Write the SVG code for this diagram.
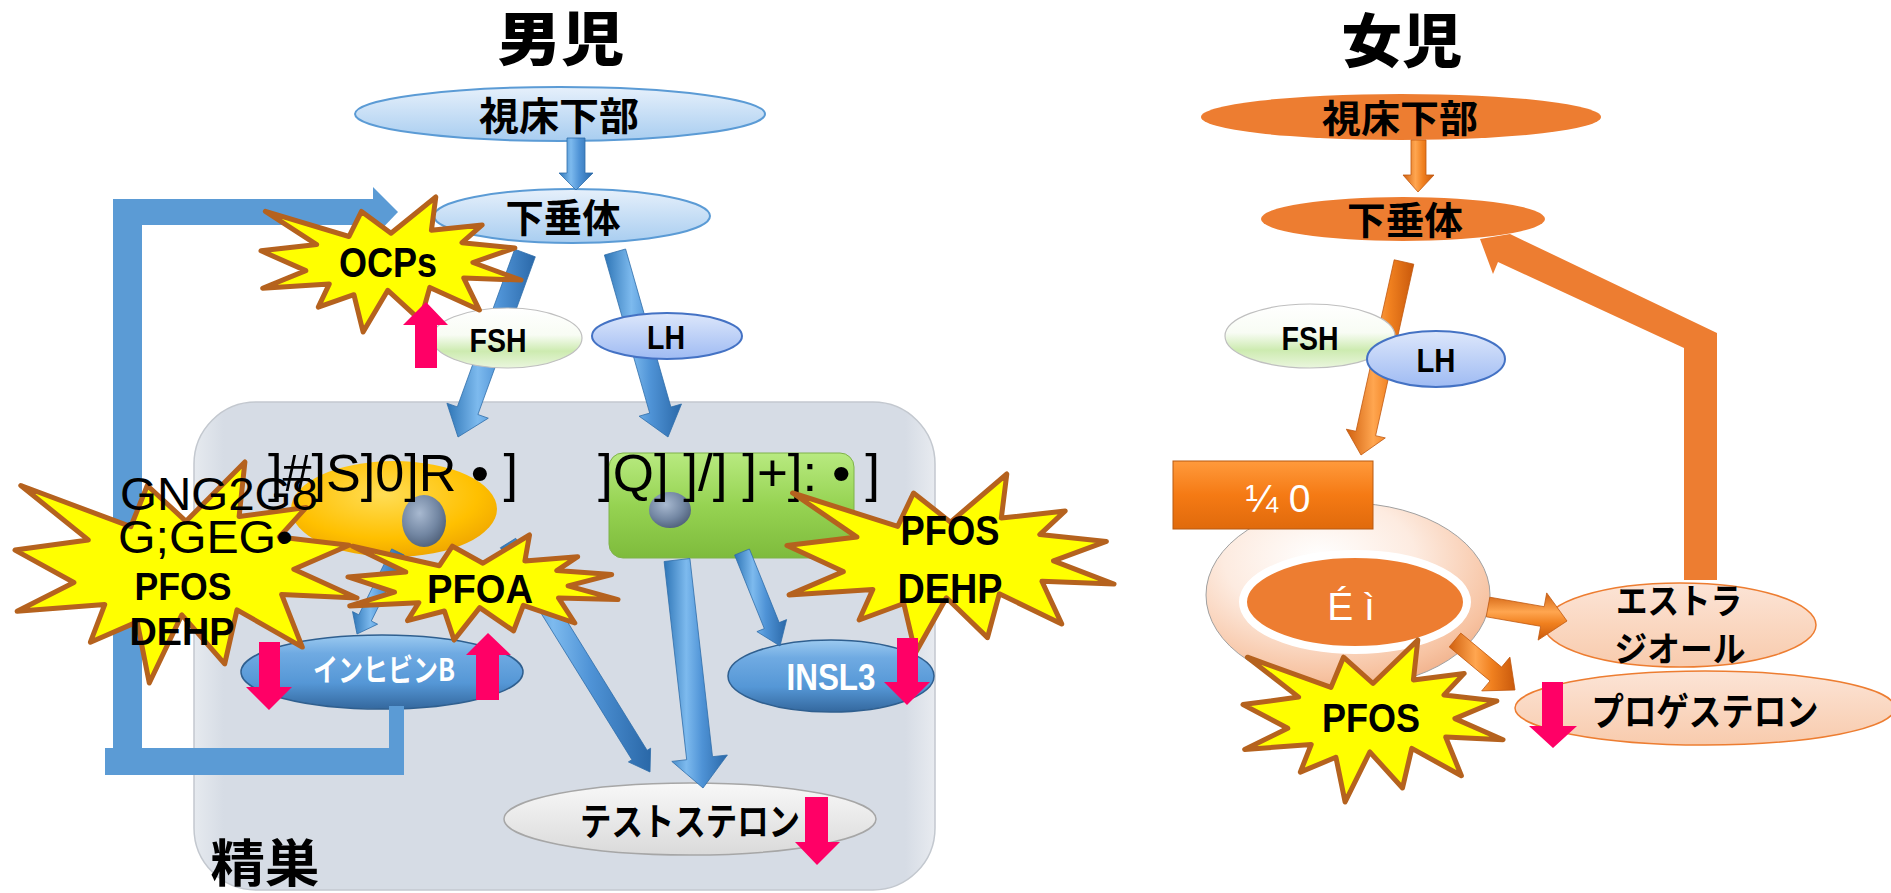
<svg xmlns="http://www.w3.org/2000/svg" width="1891" height="893" viewBox="0 0 1891 893">
<defs>
<style>
.jp{font-family:"Noto Sans CJK JP","Noto Sans CJK SC",sans-serif;font-weight:700;fill:#000}
.ttl{font-weight:900}
.lb{font-family:"Liberation Sans",Arial,sans-serif;font-weight:700;fill:#000}
.lr{font-family:"Liberation Sans",Arial,sans-serif;font-weight:400;fill:#000}
.wt{fill:#FFFFFF}
.burst{fill:#FFFF00;stroke:#B5621E;stroke-width:5;stroke-linejoin:round}
.pink{fill:#FF0066}
.fbm{fill:#5B9BD5}
.fbf{fill:#ED7D31}
.ba{fill:url(#gBA);stroke:#2F6DAA;stroke-width:0.8}
.oa{fill:url(#gOA);stroke:#C0580F;stroke-width:0.8}
.oav{fill:url(#gOAv);stroke:#C0580F;stroke-width:0.8}
.hypoM{fill:url(#gHypoM);stroke:#5B9BD5;stroke-width:2}
.hypoF{fill:#ED7D31}
.fsh{fill:url(#gFSH);stroke:#BFBFBF;stroke-width:1.2}
.lh{fill:url(#gLH);stroke:#4472C4;stroke-width:2}
.bnode{fill:url(#gBN);stroke:#2F5F8F;stroke-width:1.5}
.peach{fill:url(#gPeach);stroke:#ED7D31;stroke-width:1.5}
</style>
<linearGradient id="gHypoM" x1="0" y1="0" x2="0" y2="1"><stop offset="0" stop-color="#E6F0FB"/><stop offset="1" stop-color="#A8CDF0"/></linearGradient>
<linearGradient id="gFSH" x1="0" y1="0" x2="0" y2="1"><stop offset="0" stop-color="#FFFFFF"/><stop offset="0.45" stop-color="#F8FCF4"/><stop offset="0.72" stop-color="#CDEBB0"/><stop offset="1" stop-color="#EAF6DE"/></linearGradient>
<linearGradient id="gLH" x1="0" y1="0" x2="0" y2="1"><stop offset="0" stop-color="#DDE7FB"/><stop offset="1" stop-color="#9FBBF3"/></linearGradient>
<linearGradient id="gBN" x1="0" y1="0" x2="0" y2="1"><stop offset="0" stop-color="#9CCAF0"/><stop offset="0.25" stop-color="#6FAAE2"/><stop offset="0.65" stop-color="#5597D6"/><stop offset="1" stop-color="#34689E"/></linearGradient>
<linearGradient id="gTesto" x1="0" y1="0" x2="0" y2="1"><stop offset="0" stop-color="#F8F8F8"/><stop offset="1" stop-color="#DADADA"/></linearGradient>
<radialGradient id="gSertoli" cx="0.45" cy="0.35" r="0.65"><stop offset="0" stop-color="#FFDD55"/><stop offset="0.7" stop-color="#FFC000"/><stop offset="1" stop-color="#F0A800"/></radialGradient>
<linearGradient id="gLeydig" x1="0" y1="0" x2="0" y2="1"><stop offset="0" stop-color="#B8EA80"/><stop offset="0.5" stop-color="#96D352"/><stop offset="1" stop-color="#7EBB3C"/></linearGradient>
<radialGradient id="gNuc" cx="0.4" cy="0.35" r="0.7"><stop offset="0" stop-color="#A8B9D0"/><stop offset="0.6" stop-color="#7387A3"/><stop offset="1" stop-color="#4E5F78"/></radialGradient>
<linearGradient id="gGonad" x1="0" y1="0" x2="1" y2="0"><stop offset="0" stop-color="#E6EAEF"/><stop offset="0.04" stop-color="#D6DCE5"/><stop offset="0.96" stop-color="#D6DCE5"/><stop offset="1" stop-color="#E8EBF0"/></linearGradient>
<radialGradient id="gFollicle" cx="0.4" cy="0.3" r="0.75"><stop offset="0" stop-color="#FFFFFF"/><stop offset="0.45" stop-color="#FDEBE0"/><stop offset="0.85" stop-color="#F7C3A2"/><stop offset="1" stop-color="#F0B08A"/></radialGradient>
<linearGradient id="gRect" x1="0" y1="0" x2="0" y2="1"><stop offset="0" stop-color="#FF9A3C"/><stop offset="0.5" stop-color="#F57A14"/><stop offset="1" stop-color="#E06A0C"/></linearGradient>
<linearGradient id="gPeach" x1="0" y1="0" x2="0" y2="1"><stop offset="0" stop-color="#FCE4D6"/><stop offset="1" stop-color="#F8CBAD"/></linearGradient>
<linearGradient id="gBA" x1="0" y1="0" x2="1" y2="0"><stop offset="0" stop-color="#2E75B6"/><stop offset="0.35" stop-color="#7DBAEE"/><stop offset="0.6" stop-color="#4F93D6"/><stop offset="1" stop-color="#2A68A8"/></linearGradient>
<linearGradient id="gOA" x1="0" y1="0" x2="1" y2="0"><stop offset="0" stop-color="#D0600F"/><stop offset="0.4" stop-color="#FFA650"/><stop offset="0.65" stop-color="#F0801F"/><stop offset="1" stop-color="#C9590C"/></linearGradient>
<linearGradient id="gOAv" x1="0" y1="0" x2="0" y2="1"><stop offset="0" stop-color="#D0600F"/><stop offset="0.4" stop-color="#FFA650"/><stop offset="0.65" stop-color="#F0801F"/><stop offset="1" stop-color="#C9590C"/></linearGradient>
</defs>

<rect width="1891" height="893" fill="#FFFFFF"/>

<!-- titles -->
<g id="title-male"><text class="jp ttl" x="561" y="60" text-anchor="middle" font-size="58" textLength="127" lengthAdjust="spacingAndGlyphs">男児</text></g>
<g id="title-female"><text class="jp ttl" x="1402" y="62" text-anchor="middle" font-size="58" textLength="121" lengthAdjust="spacingAndGlyphs">女児</text></g>

<!-- testis box -->
<g id="testis">
<rect x="194" y="402" width="741" height="488" rx="62" fill="url(#gGonad)" stroke="#C3C8CF" stroke-width="1.5"/>
<text class="jp" x="265" y="882" text-anchor="middle" font-size="51" textLength="109" lengthAdjust="spacingAndGlyphs">精巣</text>
</g>

<!-- male nodes -->
<g id="m-hypothalamus">
<ellipse class="hypoM" cx="560" cy="114" rx="205" ry="27"/>
<text class="jp" x="559" y="130" text-anchor="middle" font-size="39" textLength="160" lengthAdjust="spacingAndGlyphs">視床下部</text>
</g>
<g id="m-pituitary">
<ellipse class="hypoM" cx="572" cy="216" rx="138" ry="27"/>
<text class="jp" x="563" y="232" text-anchor="middle" font-size="39" textLength="115" lengthAdjust="spacingAndGlyphs">下垂体</text>
</g>
<g id="m-sertoli">
<ellipse cx="394" cy="509" rx="103" ry="48" fill="url(#gSertoli)"/>
<ellipse cx="424" cy="521" rx="22" ry="26" fill="url(#gNuc)"/>
</g>
<g id="m-leydig">
<rect x="609" y="453" width="245" height="105" rx="14" fill="url(#gLeydig)" stroke="#7FB24A" stroke-width="1"/>
<ellipse cx="670" cy="510" rx="21" ry="18" fill="url(#gNuc)"/>
</g>
<g id="m-inhibin">
<ellipse class="bnode" cx="382" cy="672" rx="141" ry="37"/>
<text class="jp wt" x="384" y="681" text-anchor="middle" font-size="31" textLength="142" lengthAdjust="spacingAndGlyphs">インヒビンB</text>
</g>
<g id="m-insl3">
<ellipse class="bnode" cx="831" cy="676" rx="103" ry="36"/>
<text class="lb wt" x="831" y="690" text-anchor="middle" font-size="37" textLength="89" lengthAdjust="spacingAndGlyphs">INSL3</text>
</g>
<g id="m-testosterone">
<ellipse cx="690" cy="819" rx="186" ry="36" fill="url(#gTesto)" stroke="#A6A6A6" stroke-width="1.5"/>
<text class="jp" x="690" y="835" text-anchor="middle" font-size="38" textLength="220" lengthAdjust="spacingAndGlyphs">テストステロン</text>
</g>

<!-- female nodes -->
<g id="f-hypothalamus">
<ellipse class="hypoF" cx="1401" cy="117" rx="200" ry="23"/>
<text class="jp" x="1400" y="132" text-anchor="middle" font-size="38" textLength="156" lengthAdjust="spacingAndGlyphs">視床下部</text>
</g>
<g id="f-pituitary">
<ellipse class="hypoF" cx="1403" cy="219" rx="142" ry="22"/>
<text class="jp" x="1405" y="234" text-anchor="middle" font-size="38" textLength="116" lengthAdjust="spacingAndGlyphs">下垂体</text>
</g>
<g id="f-follicle">
<ellipse cx="1348" cy="595" rx="142" ry="92" fill="url(#gFollicle)" stroke="#A0A0A0" stroke-width="1"/>
</g>
<g id="f-ovary-label">
<rect x="1173" y="461" width="200" height="68" fill="url(#gRect)" stroke="#B85A12" stroke-width="1"/>
<text class="lr wt" x="1278" y="512" text-anchor="middle" font-size="39">¼ 0</text>
</g>
<g id="f-oocyte">
<ellipse cx="1355" cy="602" rx="112" ry="48" fill="#ED7D31" stroke="#FFFFFF" stroke-width="8"/>
<text class="lr wt" x="1351" y="620" text-anchor="middle" font-size="39">É ì</text>
</g>
<g id="f-estradiol">
<ellipse class="peach" cx="1680" cy="625" rx="136" ry="42"/>
<text class="jp" x="1679" y="614" text-anchor="middle" font-size="35" textLength="126" lengthAdjust="spacingAndGlyphs">エストラ</text>
<text class="jp" x="1680" y="662" text-anchor="middle" font-size="35" textLength="131" lengthAdjust="spacingAndGlyphs">ジオール</text>
</g>
<g id="f-progesterone">
<ellipse class="peach" cx="1705" cy="708" rx="190" ry="37"/>
<text class="jp" x="1705" y="725" text-anchor="middle" font-size="38" textLength="227" lengthAdjust="spacingAndGlyphs">プロゲステロン</text>
</g>

<!-- connectors -->
<g id="connectors">
<g id="m-feedback" class="fbm">
<rect x="389" y="706" width="15" height="56"/>
<rect x="105" y="748" width="299" height="27"/>
<rect x="113" y="199" width="29" height="576"/>
<rect x="113" y="199" width="262" height="26"/>
<polygon points="373,187 398,212 373,238"/>
</g>
<polygon class="ba" points="567,138 567,173 559,173 576,190 593,173 585,173 585,138"/>
<polygon class="ba" points="514.7,249.2 457.3,406.9 446.9,403.2 458,437 488.3,418.2 477.9,414.5 535.3,256.8"/>
<polygon class="ba" points="604.4,255 649.7,413.1 639.1,416.2 668,437 681.5,404 670.9,407.1 625.6,249"/>
<polygon class="ba" points="391.7,548.9 358.8,614.8 352.5,611.6 357,634 377.6,624.2 371.3,621 404.3,555.1"/>
<polygon class="ba" points="500.4,547.7 631.9,759.7 628.4,761.9 650,772 650.6,748.2 647.1,750.3 515.7,538.3"/>
<polygon class="ba" points="664.1,561.5 686.7,759.7 671.8,761.4 703,788 727.4,755 712.5,756.7 689.9,558.5"/>
<polygon class="ba" points="734.6,555 764.3,628.6 756.9,631.6 780,646 786.6,619.6 779.2,622.6 749.4,549"/>
<polygon class="fbf" points="1480,239 1510,234 1717,333 1717,580 1684,580 1684,348 1498,262 1493,274"/>
<polygon class="oa" points="1411,140 1411,175 1403,175 1418,192 1434,175 1426,175 1426,140"/>
<polygon class="oa" points="1394.2,259.8 1356,431.3 1346.3,429.2 1361,455 1385.3,437.9 1375.6,435.7 1413.8,264.2"/>
<polygon class="oav" points="1486.2,616.8 1540.6,626.3 1538.1,640.1 1567,621 1546.7,592.9 1544.2,606.7 1489.8,597.2"/>
<polygon class="oa" points="1449.2,646.9 1490,680.9 1481.7,690.9 1515,690 1509.9,657.1 1501.6,667.1 1460.8,633.1"/>
</g>

<!-- hormone labels -->
<g id="m-fsh">
<ellipse class="fsh" cx="507" cy="338" rx="75" ry="30"/>
<text class="lb" x="498" y="352" text-anchor="middle" font-size="33" textLength="57" lengthAdjust="spacingAndGlyphs">FSH</text>
</g>
<g id="m-lh">
<ellipse class="lh" cx="667" cy="336" rx="75" ry="23"/>
<text class="lb" x="666" y="349" text-anchor="middle" font-size="33" textLength="38" lengthAdjust="spacingAndGlyphs">LH</text>
</g>
<g id="f-fsh">
<ellipse class="fsh" cx="1310" cy="336" rx="85" ry="32"/>
<text class="lb" x="1310" y="350" text-anchor="middle" font-size="33" textLength="57" lengthAdjust="spacingAndGlyphs">FSH</text>
</g>
<g id="f-lh">
<ellipse class="lh" cx="1436" cy="359" rx="69" ry="28"/>
<text class="lb" x="1436" y="372" text-anchor="middle" font-size="33" textLength="39" lengthAdjust="spacingAndGlyphs">LH</text>
</g>

<!-- cell texts -->
<g id="cell-texts">
<text class="lr" x="268" y="491" font-size="52" textLength="250" lengthAdjust="spacingAndGlyphs">]#]S]0]R • ]</text>
<text class="lr" x="598" y="491" font-size="52" textLength="282" lengthAdjust="spacingAndGlyphs">]Q] ]/] ]+]: • ]</text>
</g>

<!-- bursts -->
<g id="burst-ocps">
<polygon class="burst" points="391,233.2 435.8,197 431.4,230.3 482.2,224.9 462,242.7 514.9,247.9 472.9,262.5 521,280.1 463.7,277.9 479.4,310.1 429.8,287.4 420.5,320.4 387.8,290.3 363.1,332 353.9,294.7 318.3,307.1 329.2,284.1 262.6,288.2 305.8,270.6 261,250.8 316.7,244.6 265.4,211.4 349,236.5 361.5,211.4"/>
<text class="lb" x="388" y="277" text-anchor="middle" font-size="43" textLength="98" lengthAdjust="spacingAndGlyphs">OCPs</text>
</g>
<g id="burst-left">
<polygon class="burst" points="186,521.3 244.9,462 239.1,516.5 306,507.6 279.4,536.9 349,545.2 293.8,569.2 357,598 281.6,594.4 302.3,647.1 237,609.9 224.7,663.9 181.8,614.8 149.3,683 137.2,621.9 90.4,642.2 104.7,604.6 17.1,611.2 73.9,582.5 15,550.1 88.3,539.9 20.8,485.5 130.8,526.7 147.3,485.5"/>
<text class="lr" x="120" y="510" font-size="47" textLength="198" lengthAdjust="spacingAndGlyphs">GNG2G8</text>
<text class="lr" x="118" y="553" font-size="47" textLength="175" lengthAdjust="spacingAndGlyphs">G;GEG•</text>
<text class="lb" x="183" y="600" text-anchor="middle" font-size="39" textLength="97" lengthAdjust="spacingAndGlyphs">PFOS</text>
<text class="lb" x="182" y="645" text-anchor="middle" font-size="39" textLength="105" lengthAdjust="spacingAndGlyphs">DEHP</text>
</g>
<g id="burst-pfoa">
<polygon class="burst" points="483,563.2 529.5,535 524.9,560.9 577.7,556.7 556.8,570.6 611.7,574.6 568.1,585.9 618,599.6 558.5,597.9 574.8,623 523.3,605.3 513.6,630.9 479.7,607.6 454.1,640 444.4,611 407.5,620.6 418.8,602.7 349.7,605.9 394.5,592.2 348,576.9 405.8,572 352.6,546.2 439.4,565.7 452.4,546.2"/>
<text class="lb" x="480" y="603" text-anchor="middle" font-size="41" textLength="106" lengthAdjust="spacingAndGlyphs">PFOA</text>
</g>
<g id="burst-right">
<polygon class="burst" points="950.5,522.1 1006.8,474 1001.3,518.1 1065.2,510.9 1039.8,534.6 1106.4,541.4 1053.5,560.8 1114,584.1 1041.9,581.3 1061.7,623.9 999.3,593.8 987.5,637.6 946.4,597.8 915.4,653 903.8,603.5 859.1,620 872.8,589.5 789,594.9 843.3,571.6 787,545.4 857,537.1 792.6,493 897.7,526.4 913.5,493"/>
<text class="lb" x="950" y="545" text-anchor="middle" font-size="42" textLength="99" lengthAdjust="spacingAndGlyphs">PFOS</text>
<text class="lb" x="950" y="603" text-anchor="middle" font-size="42" textLength="105" lengthAdjust="spacingAndGlyphs">DEHP</text>
</g>
<g id="burst-female">
<polygon class="burst" points="1373,683.5 1417.8,640 1413.4,679.9 1464.2,673.4 1444,694.9 1496.9,701 1454.9,718.6 1503,739.7 1445.7,737.1 1461.4,775.7 1411.8,748.4 1402.5,788 1369.8,752 1345.1,802 1335.9,757.2 1300.3,772.1 1311.2,744.5 1244.6,749.4 1287.8,728.3 1243,704.6 1298.7,697.1 1247.4,657.2 1331,687.4 1343.5,657.2"/>
<text class="lb" x="1371" y="732" text-anchor="middle" font-size="40" textLength="98" lengthAdjust="spacingAndGlyphs">PFOS</text>
</g>

<!-- change indicators -->
<g id="indicators" class="pink">
<polygon points="415,368 415,325 403,325 426,302 448,325 437,325 437,368"/>
<polygon points="259,642 280,642 280,687 292,687 269,710 246,687 259,687"/>
<polygon points="476,700 476,655 466,655 488,633 511,655 499,655 499,700"/>
<polygon points="897,638 918,638 918,682 930,682 907,705 884,682 897,682"/>
<polygon points="805,797 828,797 828,842 840,842 817,865 795,842 805,842"/>
<polygon points="1542,682 1563,682 1563,726 1577,726 1553,748 1529,726 1542,726"/>
</g>
</svg>
